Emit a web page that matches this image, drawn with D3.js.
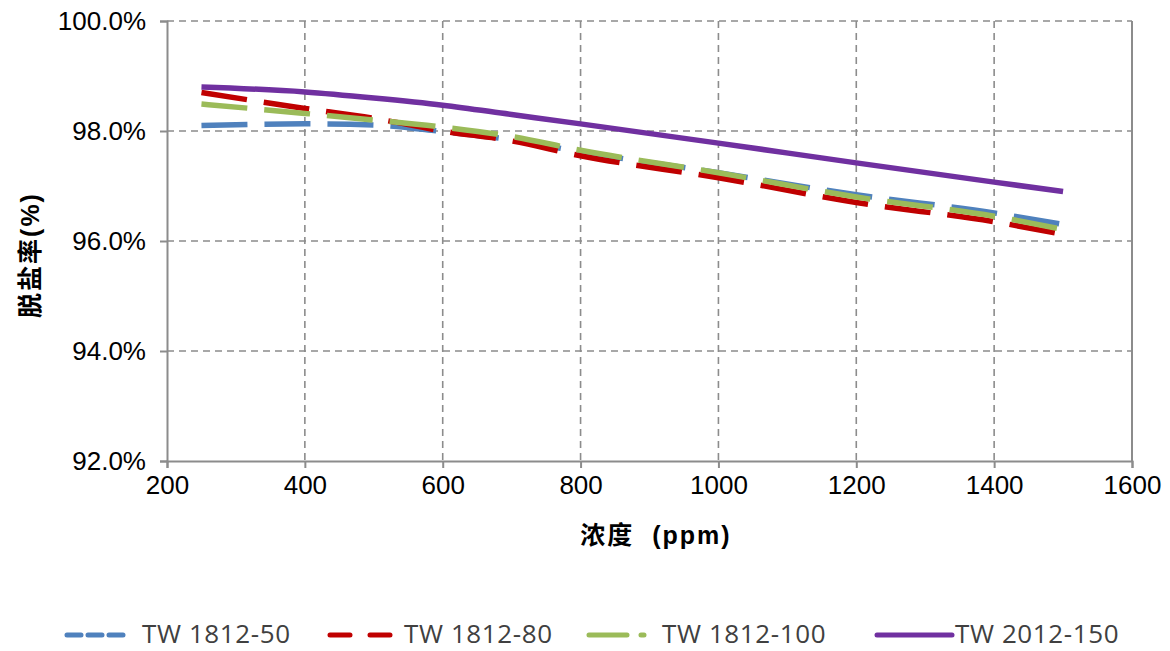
<!DOCTYPE html>
<html>
<head>
<meta charset="utf-8">
<script src="https://cdn.jsdelivr.net/npm/d3@7"></script>
<style>
  html, body { margin: 0; padding: 0; background: #fff; }
  svg { display: block; }
</style>
</head>
<body>
<svg id="chart" width="1170" height="651"></svg>
<script>
// ---- data ----
const concentration = [250, 400, 500, 600, 700, 800, 1000, 1200, 1400, 1500];
const tw1812_50  = [98.10, 98.13, 98.11, 97.99, 97.84, 97.62, 97.24, 96.84, 96.51, 96.30];
const tw1812_80  = [98.70, 98.41, 98.23, 98.00, 97.82, 97.55, 97.15, 96.70, 96.35, 96.12];
const tw1812_100 = [98.49, 98.32, 98.20, 98.07, 97.90, 97.65, 97.24, 96.80, 96.45, 96.21];
const tw2012_150 = [98.80, 98.71, 98.60, 98.47, 98.30, 98.13, 97.78, 97.42, 97.07, 96.90];
const seriesNames = ["TW 1812-50", "TW 1812-80", "TW 1812-100", "TW 2012-150"];
const xTicks = [200, 400, 600, 800, 1000, 1200, 1400, 1600];
const yTicks = [92, 94, 96, 98, 100];
const xTitle = "浓度 (ppm)";
const yTitle = "脱盐率(%)";

// ---- layout ----
const pL = 167, pR = 1132, pT = 21, pB = 461;
const svg = d3.select("#chart");
const x = d3.scaleLinear().domain([200, 1600]).range([pL, pR]);
const y = d3.scaleLinear().domain([92, 100]).range([pB, pT]);
const gridColor = "#8c8c8c";
const tickFont = "'Liberation Sans', Arial, sans-serif";

// gridlines
svg.append("g").selectAll("line").data(yTicks.filter(d => d !== 92)).join("line")
  .attr("x1", pL).attr("x2", pR).attr("y1", d => y(d)).attr("y2", d => y(d))
  .attr("stroke", gridColor).attr("stroke-width", 1.6).attr("stroke-dasharray", "7,5");
svg.append("g").selectAll("line").data(xTicks.filter(d => d !== 200 && d !== 1600)).join("line")
  .attr("x1", d => x(d)).attr("x2", d => x(d)).attr("y1", pT).attr("y2", pB)
  .attr("stroke", gridColor).attr("stroke-width", 1.6).attr("stroke-dasharray", "7,5");
// right border
svg.append("line").attr("x1", pR).attr("x2", pR).attr("y1", pT).attr("y2", pB)
  .attr("stroke", gridColor).attr("stroke-width", 2);

// axes
const yAxis = svg.append("g").attr("transform", `translate(${pL},0)`)
  .call(d3.axisLeft(y).tickValues(yTicks).tickFormat(d => d3.format(".1f")(d) + "%").tickSize(7).tickPadding(14));
const xAxis = svg.append("g").attr("transform", `translate(0,${pB})`)
  .call(d3.axisBottom(x).tickValues(xTicks).tickFormat(d3.format("d")).tickSize(7).tickPadding(8));
[yAxis, xAxis].forEach(a => {
  a.select(".domain").attr("stroke", gridColor).attr("stroke-width", 2);
  a.selectAll(".tick line").attr("stroke", gridColor).attr("stroke-width", 2);
  a.selectAll(".tick text").attr("fill", "#000").style("font-family", tickFont).style("font-size", "26px");
});

// axis titles
svg.append("text").attr("x", 656).attr("y", 544).attr("text-anchor", "middle")
  .style("font-family", "'Liberation Sans', 'Noto Sans CJK SC', sans-serif").style("font-size", "25px")
  .style("font-weight", "bold").style("letter-spacing", "2px").attr("xml:space", "preserve")
  .text(xTitle.replace(" ", "  "));
svg.append("text").attr("transform", `translate(39,255) rotate(-90)`).attr("text-anchor", "middle")
  .style("font-family", "'Liberation Sans', 'Noto Sans CJK SC', sans-serif").style("font-size", "25px")
  .style("font-weight", "bold").style("letter-spacing", "2px").text(yTitle);

// series
const allSeries = [tw1812_50, tw1812_80, tw1812_100, tw2012_150];
const colors = ["#4F81BD", "#C00000", "#9BBB59", "#7030A0"];
const dashes = ["46,17", "46,17", "46,17", null];
const line = d3.line().x(d => x(d[0])).y(d => y(d[1])).curve(d3.curveMonotoneX);
allSeries.forEach((vals, i) => {
  const pts = concentration.map((c, j) => [c, vals[j]]);
  svg.append("path").datum(pts).attr("d", line)
    .attr("fill", "none").attr("stroke", colors[i]).attr("stroke-width", 5.5)
    .attr("stroke-dasharray", dashes[i]);
});

// legend
const legendY = 635;
const legendItems = [
  { x0: 67, x1: 130, tx: 142, dash: "14,7" },
  { x0: 330, x1: 392, tx: 404, dash: "20,20" },
  { x0: 589, x1: 656, tx: 662, dash: "38,14,3,30" },
  { x0: 877, x1: 952, tx: 955, dash: null }
];
legendItems.forEach((it, i) => {
  svg.append("line").attr("x1", it.x0).attr("x2", it.x1).attr("y1", legendY).attr("y2", legendY)
    .attr("stroke", colors[i]).attr("stroke-width", 5).attr("stroke-linecap", "round")
    .attr("stroke-dasharray", it.dash);
  svg.append("text").attr("x", it.tx).attr("y", 643)
    .style("font-family", "'Open Sans', sans-serif").style("font-size", "26px")
    .style("letter-spacing", "0.6px").attr("fill", "#404040")
    .text(seriesNames[i]);
});
</script>
</body>
</html>
